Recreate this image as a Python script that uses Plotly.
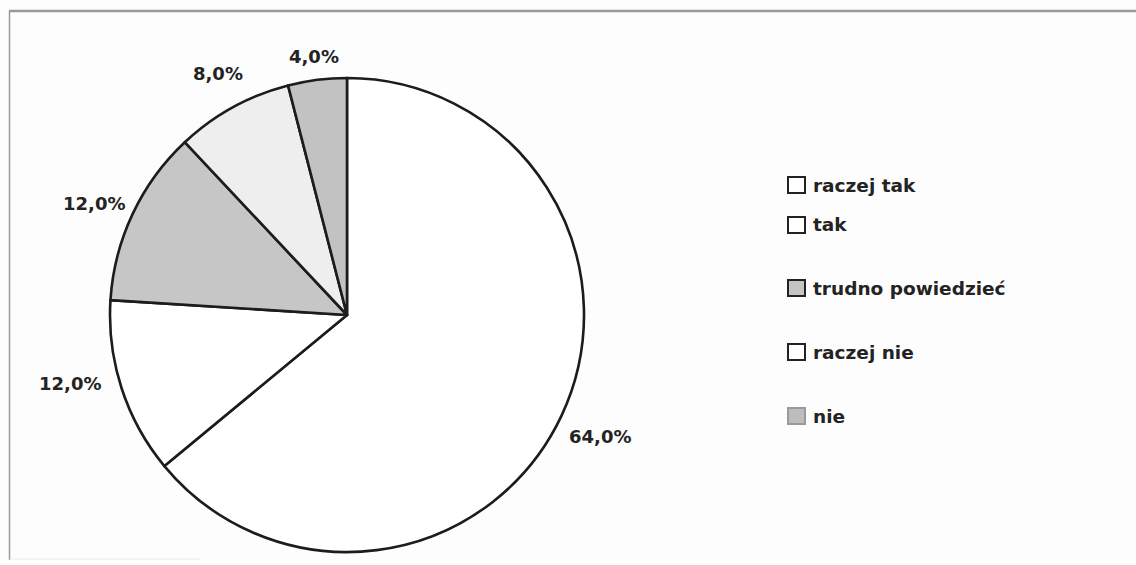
import plotly.graph_objects as go

W, H = 1136, 565

categories = ["raczej tak", "tak", "trudno powiedzieć", "raczej nie", "nie"]
values = [64.0, 12.0, 12.0, 8.0, 4.0]
slice_colors = ["#ffffff", "#ffffff", "#c6c6c6", "#eeeeee", "#c2c2c2"]
value_labels = ["64,0%", "12,0%", "12,0%", "8,0%", "4,0%"]

# label positions (pixels) for each slice's value label
label_px = [(600, 436), (70, 383), (94, 203), (218, 73), (314, 57)]
# legend row centres (pixels)
legend_rows = [185, 225, 288, 352, 416]
legend_box_fill = ["#ffffff", "#ffffff", "#c4c4c4", "#ffffff", "#bdbdbd"]
legend_box_line = ["#222222", "#222222", "#222222", "#222222", "#9a9a9a"]

cx, cy, r = 347, 315, 237

def px(x):
    return x / W

def py(y):
    return 1 - y / H

fig = go.Figure(go.Pie(
    labels=categories,
    values=values,
    sort=False,
    direction="clockwise",
    rotation=0,
    marker=dict(colors=slice_colors, line=dict(color="#1c1c1c", width=2.6)),
    textinfo="none",
    hoverinfo="label+percent",
    showlegend=False,
    domain=dict(x=[px(cx - r), px(cx + r)], y=[py(cy + r), py(cy - r)]),
))

font = dict(family="DejaVu Sans", size=18, color="#232323")
legend_font = dict(family="DejaVu Sans", size=18.5, color="#232323")
annotations = []
for (x, y), t in zip(label_px, value_labels):
    annotations.append(dict(x=px(x), y=py(y), xref="paper", yref="paper",
                            text="<b>%s</b>" % t, showarrow=False, font=font,
                            xanchor="center", yanchor="middle"))

shapes = []
for yc, name, fc, lc in zip(legend_rows, categories, legend_box_fill, legend_box_line):
    shapes.append(dict(type="rect", xref="paper", yref="paper",
                       x0=px(788), x1=px(805), y0=py(yc + 8), y1=py(yc - 8),
                       fillcolor=fc, line=dict(color=lc, width=2)))
    annotations.append(dict(x=px(811), y=py(yc), xref="paper", yref="paper",
                            text="<b>%s</b>" % name, showarrow=False, font=legend_font,
                            xanchor="left", yanchor="middle"))

# outer chart frame
shapes.append(dict(type="line", xref="paper", yref="paper", x0=px(9), x1=1,
                   y0=py(11), y1=py(11), line=dict(color="#9a9a9a", width=2.5)))
shapes.append(dict(type="line", xref="paper", yref="paper", x0=px(9.5), x1=px(9.5),
                   y0=py(11), y1=py(560), line=dict(color="#9a9a9a", width=1.5)))
shapes.append(dict(type="line", xref="paper", yref="paper", x0=px(9.5), x1=px(200),
                   y0=py(559), y1=py(559), line=dict(color="#ececec", width=1)))

fig.update_layout(
    width=W, height=H,
    margin=dict(l=0, r=0, t=0, b=0),
    paper_bgcolor="#fdfdfd",
    plot_bgcolor="#fdfdfd",
    annotations=annotations,
    shapes=shapes,
)

fig.write_html("out.html",
               config={"displayModeBar": False},
               post_script="document.body.style.margin='0';document.body.style.overflow='hidden';")
